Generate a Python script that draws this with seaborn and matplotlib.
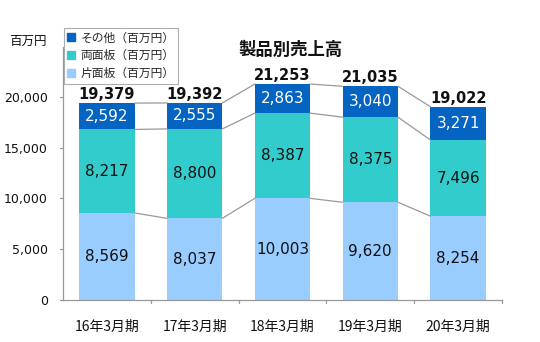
import matplotlib
matplotlib.use("Agg")
import matplotlib.pyplot as plt
import seaborn as sns
import pandas as pd
import numpy as np
from matplotlib.patches import Patch

categories = ["16年3月期", "17年3月期", "18年3月期", "19年3月期", "20年3月期"]
single = [8569, 8037, 10003, 9620, 8254]
double = [8217, 8800, 8387, 8375, 7496]
other = [2592, 2555, 2863, 3040, 3271]
totals = [19379, 19392, 21253, 21035, 19022]
series_names = ["その他（百万円）", "両面板（百万円）", "片面板（百万円）"]
yticks = [0, 5000, 10000, 15000, 20000]

c_other = "#0563C1"
c_double = "#33CCCC"
c_single = "#99CCFF"

sns.set_theme(style="white")
plt.rcParams['font.family'] = ['DejaVu Sans', 'Noto Sans CJK JP']
jp = ['Noto Sans CJK JP', 'DejaVu Sans']

fig = plt.figure(figsize=(5.4, 3.42), dpi=100)
ax = fig.add_axes([0.1167, 0.1228, 0.8129, 0.7398])

s = np.array(single)
d = np.array(double)
o = np.array(other)
lvl1 = s
lvl2 = s + d
lvl3 = s + d + o

df = pd.DataFrame({"cat": categories, "l1": lvl1, "l2": lvl2, "l3": lvl3})
w = 0.63
sns.barplot(data=df, x="cat", y="l3", color=c_other, saturation=1, width=w, ax=ax, linewidth=0)
sns.barplot(data=df, x="cat", y="l2", color=c_double, saturation=1, width=w, ax=ax, linewidth=0)
sns.barplot(data=df, x="cat", y="l1", color=c_single, saturation=1, width=w, ax=ax, linewidth=0)

# connector lines
for lv in (lvl1, lvl2, lvl3):
    for i in range(len(categories) - 1):
        ax.plot([i + w / 2, i + 1 - w / 2], [lv[i], lv[i + 1]], color="#999999", lw=0.9, zorder=1)

# value labels
for i in range(len(categories)):
    ax.text(i, lvl1[i] / 2, f"{single[i]:,}", ha="center", va="center", fontsize=11, color="#111111")
    ax.text(i, lvl1[i] + d[i] / 2, f"{double[i]:,}", ha="center", va="center", fontsize=11, color="#111111")
    ax.text(i, lvl2[i] + o[i] / 2, f"{other[i]:,}", ha="center", va="center", fontsize=11, color="white")
    ax.text(i, lvl3[i] + 120, f"{totals[i]:,}", ha="center", va="bottom", fontsize=10.5,
            fontweight="bold", color="#111111")

ax.set_xlim(-0.5, len(categories) - 0.5)
ax.set_ylim(0, 24900)
ax.set_yticks(yticks)
ax.set_yticklabels([f"{v:,}" for v in yticks], fontsize=9, color="#111111")
ax.set_xticks(range(len(categories)))
ax.set_xticklabels(categories, fontsize=10, family=jp, color="#111111")
ax.tick_params(axis="x", length=0, pad=14)
ax.tick_params(axis="y", length=0, pad=11)
ax.set_xlabel("")
ax.set_ylabel("")
for sp in ["top", "right"]:
    ax.spines[sp].set_visible(False)
for sp in ["left", "bottom"]:
    ax.spines[sp].set_color("#999999")
    ax.spines[sp].set_linewidth(0.9)

# category boundary ticks and y ticks
for b in np.arange(0.5, len(categories) - 0.5 + 0.01, 1.0):
    ax.plot([b, b], [0, -250], color="#999999", lw=0.9, clip_on=False)
for yv in yticks:
    ax.plot([-0.5, -0.53], [yv, yv], color="#999999", lw=0.9, clip_on=False)

fig.text(0.052, 0.88, "百万円", fontsize=9, family=jp, color="#111111", ha="center", va="center")
fig.text(0.538, 0.853, "製品別売上高", fontsize=12.5, family=jp, fontweight="bold", color="#111111",
         ha="center", va="center")

handles = [Patch(color=c_other), Patch(color=c_double), Patch(color=c_single)]
leg = fig.legend(handles, series_names, loc="upper left", bbox_to_anchor=(0.118, 0.918),
                 prop={"family": jp, "size": 8.5}, frameon=True, fancybox=False,
                 handlelength=0.65, handleheight=0.65, handletextpad=0.5, labelspacing=0.4,
                 borderpad=0.3, borderaxespad=0)
leg.get_frame().set_edgecolor("#999999")
leg.get_frame().set_linewidth(0.8)

fig.savefig("out.png", dpi=100)
